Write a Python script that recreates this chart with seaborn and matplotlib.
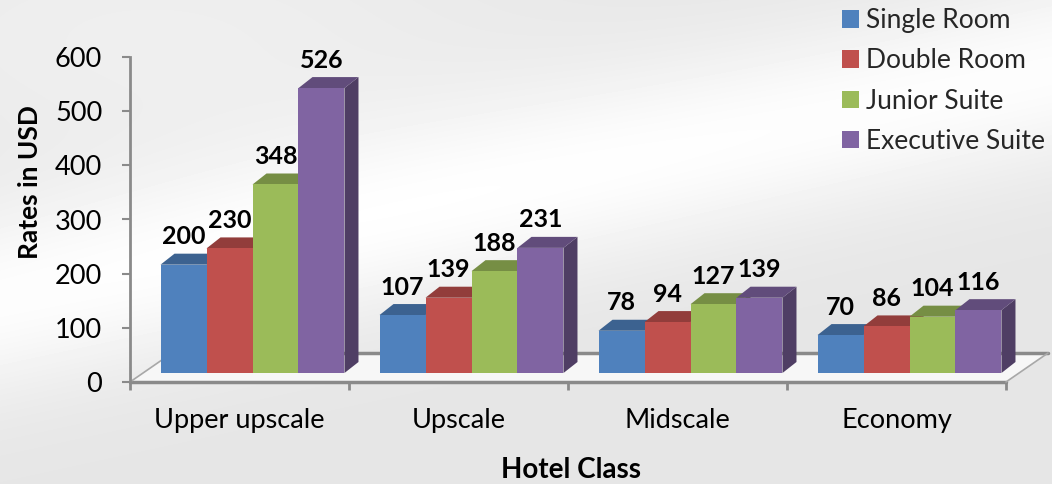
import numpy as np
import pandas as pd
import matplotlib
matplotlib.use("Agg")
import matplotlib.pyplot as plt
import seaborn as sns
from matplotlib.patches import Polygon, Patch
from matplotlib.lines import Line2D
from matplotlib.transforms import ScaledTranslation, IdentityTransform
import matplotlib.colors as mcolors

# ---------------- data ----------------
categories = ["Upper upscale", "Upscale", "Midscale", "Economy"]
room_types = ["Single Room", "Double Room", "Junior Suite", "Executive Suite"]
single_room = [200, 107, 78, 70]
double_room = [230, 139, 94, 86]
junior_suite = [348, 188, 127, 104]
executive_suite = [526, 231, 139, 116]
colors = ["#4F81BD", "#C0504D", "#9BBB59", "#8064A2"]
y_ticks = [0, 100, 200, 300, 400, 500, 600]

df = pd.DataFrame({
    "Hotel Class": categories * 4,
    "Room": [r for r in room_types for _ in categories],
    "Rate": single_room + double_room + junior_suite + executive_suite,
})

sns.set_theme(style="white")
plt.rcParams["font.family"] = ["Lato", "DejaVu Sans"]

DPI = 100
W, H = 1052, 484
FS = 19.5
fig = plt.figure(figsize=(W / DPI, H / DPI), dpi=DPI)

# ---------------- background gradient ----------------
bg = fig.add_axes([0, 0, 1, 1], zorder=-10)
yy, xx = np.mgrid[0:H, 0:W]
line_y = 300 - (230 / W) * xx
d = yy - line_y
val = 0.9 + 0.09 * np.exp(-(d / 95.0) ** 2)
val += 0.035 * np.exp(-((xx - 150) / 400.0) ** 2 - ((yy - 40) / 150.0) ** 2)
val = np.clip(val, 0, 1)
bg.imshow(val, cmap="gray", vmin=0, vmax=1, aspect="auto", extent=[0, 1, 0, 1],
          interpolation="bilinear")
bg.set_xlim(0, 1)
bg.set_ylim(0, 1)
bg.axis("off")

# ---------------- main axes ----------------
x0px, x1px, y0px, y1px = 130, 1006, 382, 57
ax = fig.add_axes([x0px / W, (H - y0px) / H, (x1px - x0px) / W, (y0px - y1px) / H])
ax.patch.set_alpha(0)

sns.barplot(data=df, x="Hotel Class", y="Rate", hue="Room", order=categories,
            hue_order=room_types, palette=colors, width=0.84, saturation=1,
            errorbar=None, legend=False, edgecolor="none", linewidth=0, ax=ax)

ax.set_xlim(-0.5, 3.5)
ax.set_ylim(0, 600)
ax.set_yticks(y_ticks)
ax.set_yticklabels([str(t) for t in y_ticks])

for s in ["top", "right", "bottom"]:
    ax.spines[s].set_visible(False)
ax.spines["left"].set_color("#8A8A8A")
ax.spines["left"].set_linewidth(2)

ax.tick_params(axis="y", which="major", length=6, width=1.5, color="#8A8A8A",
               pad=14, labelsize=FS, labelcolor="black", left=True)
ax.set_xticks(range(len(categories)))
ax.set_xticklabels(categories)
ax.set_xticks([-0.5, 0.5, 1.5, 2.5, 3.5], minor=True)
ax.tick_params(axis="x", which="major", length=0, pad=19, labelsize=FS, labelcolor="black")
ax.tick_params(axis="x", which="minor", length=6, width=2, color="#8A8A8A",
               direction="out", bottom=True)

ax.set_ylabel("Rates in USD", fontsize=19, fontweight="bold", color="black")
ax.yaxis.set_label_coords(-0.101, 0.615)
ax.set_xlabel("Hotel Class", fontsize=20, fontweight="bold", color="black")
ax.xaxis.set_label_coords(0.503, -0.23)

fig.canvas.draw()
to_disp = ax.transData.transform
ax_disp = ax.transAxes.transform

# ---------------- floor ----------------
fdx, fdy = 42, 29
a = ax_disp((0, 0)); b = ax_disp((1, 0))
floor = Polygon([a, b, (b[0] + fdx, b[1] + fdy), (a[0] + fdx, a[1] + fdy)],
                closed=True, transform=IdentityTransform(), facecolor="#F7F7F7",
                edgecolor="none", zorder=1, clip_on=False)
ax.add_patch(floor)
ax.add_line(Line2D([a[0], b[0]], [a[1], b[1]], transform=IdentityTransform(),
                   color="#8A8A8A", lw=2.5, zorder=1.2, clip_on=False))
ax.add_line(Line2D([a[0] + fdx, b[0] + fdx], [a[1] + fdy, b[1] + fdy],
                   transform=IdentityTransform(), color="#8A8A8A", lw=2.5,
                   zorder=1.2, clip_on=False))
for p in (a, b):
    ax.add_line(Line2D([p[0], p[0] + fdx], [p[1], p[1] + fdy],
                       transform=IdentityTransform(), color="#A8A8A8", lw=1.2,
                       zorder=1.2, clip_on=False))

# ---------------- pseudo-3D bars ----------------
ox, oy = 13, 9       # front face shift (pixels)
ddx, ddy = 14, 11    # bar depth (pixels)
bars = [p for p in ax.patches if isinstance(p, matplotlib.patches.Rectangle)
        and p is not floor and p.get_height() > 0]
bars.sort(key=lambda p: p.get_x())
shift = ScaledTranslation(ox / DPI, oy / DPI, fig.dpi_scale_trans)
for i, p in enumerate(bars):
    z = 3 + i * 0.01
    base = np.array(mcolors.to_rgb(p.get_facecolor()))
    xl, xr = p.get_x(), p.get_x() + p.get_width()
    h = p.get_height()
    (dxl, dyb) = to_disp((xl, 0))
    (dxr, dyt) = to_disp((xr, h))
    dxl += ox; dxr += ox; dyb += oy; dyt += oy
    side = Polygon([(dxr, dyb), (dxr + ddx, dyb + ddy), (dxr + ddx, dyt + ddy), (dxr, dyt)],
                   closed=True, transform=IdentityTransform(), facecolor=base * 0.62,
                   edgecolor="none", zorder=z - 0.005, clip_on=False)
    top = Polygon([(dxl, dyt), (dxr, dyt), (dxr + ddx, dyt + ddy), (dxl + ddx, dyt + ddy)],
                  closed=True, transform=IdentityTransform(), facecolor=base * 0.76,
                  edgecolor="none", zorder=z - 0.004, clip_on=False)
    ax.add_patch(side)
    ax.add_patch(top)
    p.set_transform(ax.transData + shift)
    p.set_zorder(z)
    p.set_clip_on(False)
    ax.annotate(f"{int(round(h))}", xy=((xl + xr) / 2, h), xytext=(ox, 37),
                textcoords="offset pixels", ha="center", va="center",
                fontsize=18, fontweight="bold", color="black",
                zorder=10, annotation_clip=False)

# ---------------- legend ----------------
handles = [Patch(facecolor=c, edgecolor="none") for c in colors]
ax.legend(handles, room_types, loc="upper left",
          bbox_to_anchor=(842 / W, 1 - 8 / H), bbox_transform=fig.transFigure,
          frameon=False, fontsize=19, handlelength=0.65, handleheight=0.65,
          handletextpad=0.27, labelspacing=0.58, borderpad=0, borderaxespad=0)

fig.savefig("out.png", dpi=DPI, facecolor="#EAEAEA")
